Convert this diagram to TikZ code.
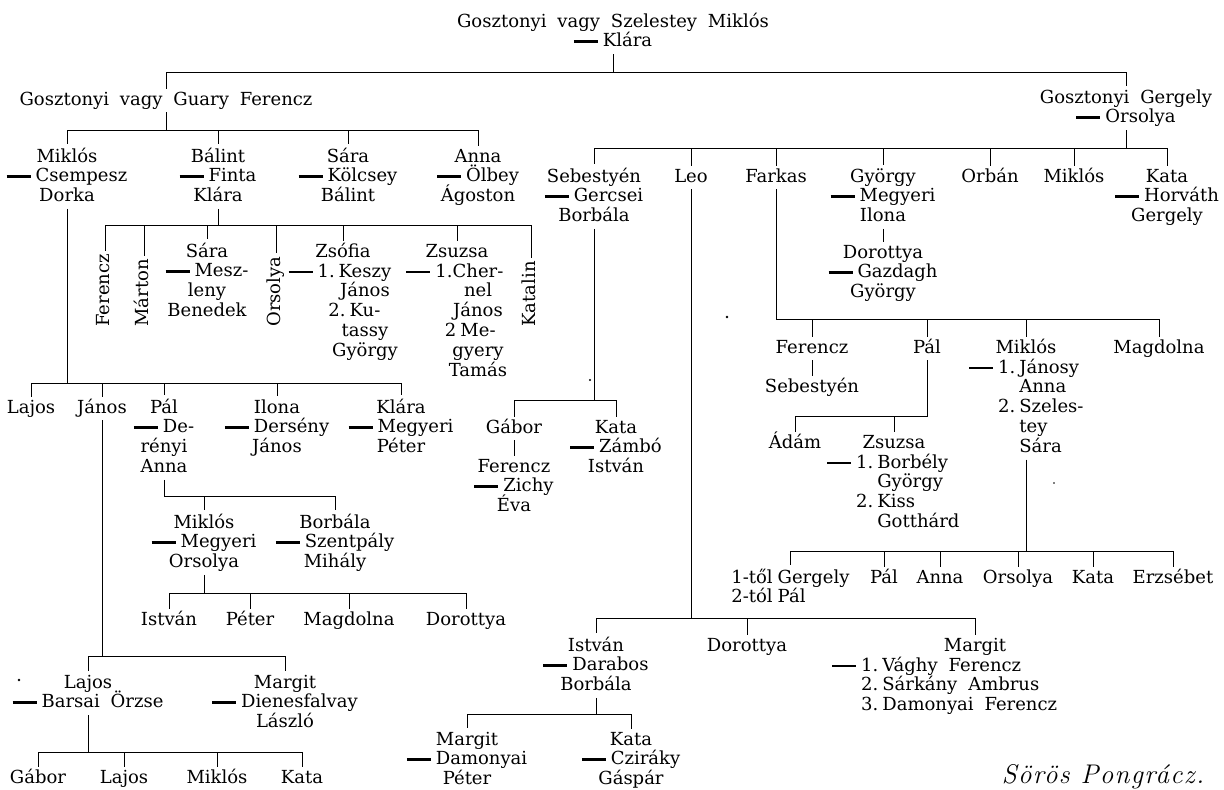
\documentclass[tikz,border=0pt]{standalone}
\usepackage{fontspec}
\setmainfont[WordSpace=1.9]{DejaVu Serif}
\newfontfamily\sigfont[LetterSpace=5]{Latin Modern Roman}

% one person with the lines under it (centred or flush left)
\newcommand{\famstrut}{\vrule height13pt depth4pt width0pt}
\newcommand{\famc}[1]{\vtop{\baselineskip=19.8pt\lineskiplimit=-100pt
  \halign{\hfil##\hfil\famstrut\cr#1\crcr}}}
\newcommand{\famv}[1]{\vtop{\baselineskip=19.8pt\lineskiplimit=-100pt
  \halign{##\hfil\famstrut\cr#1\crcr}}}
\newcommand{\wed}{\raisebox{4.2pt}{\rule{24pt}{2.2pt}}\hspace{5pt}}
\newcommand{\nr}[1]{\llap{#1\hspace{4pt}}}

\begin{document}
\begin{tikzpicture}[x=1pt,y=-1pt,line width=0.7pt,
  font=\fontsize{18}{19.8}\selectfont,
  pers/.style={anchor=base,inner sep=3pt,text height=13pt,text depth=4pt},
  fam/.style={anchor=base,inner sep=3pt},
  lst/.style={anchor=base west,inner sep=3pt},
  rot/.style={pers,rotate=90,anchor=west}]
\fill[white] (0,0) rectangle (1224,790);
\useasboundingbox (0,0) rectangle (1224,790);

% bars
\coordinate (b0) at (0,72);   \coordinate (b1) at (0,130);
\coordinate (b2) at (0,148);  \coordinate (b3) at (0,225);
\coordinate (b4) at (0,383);  \coordinate (b5) at (0,496);
\coordinate (b6) at (0,593);  \coordinate (b7) at (0,656);
\coordinate (b8) at (0,752);  \coordinate (b9) at (0,400);
\coordinate (b10) at (0,618); \coordinate (b11) at (0,714);
\coordinate (b12) at (0,319); \coordinate (b13) at (0,416);
\coordinate (b14) at (0,551);

% first two generations
\node[fam] (szel) at (613,27) {\famc{Gosztonyi vagy Szelestey Miklós\cr\wed Klára}};
\node[pers] (guary) at (166,105) {Gosztonyi vagy Guary Ferencz};
\node[fam] (gergely) at (1126,103) {\famc{Gosztonyi Gergely\cr\wed Orsolya}};
\draw (szel.south) -- (szel.south |- b0);
\draw (guary.north |- b0) -- (gergely.north |- b0);
\foreach \c in {guary,gergely} \draw (\c.north |- b0) -- (\c.north);

% Guary Ferencz
\node[fam] (miklos) at (67,162) {\famc{Miklós\cr\wed Csempesz\cr Dorka}};
\node[fam] (balint) at (218,162) {\famc{Bálint\cr\wed Finta\cr Klára}};
\node[fam] (sara) at (348,162) {\famc{Sára\cr\wed Kölcsey\cr Bálint}};
\node[fam] (anna) at (478,162) {\famc{Anna\cr\wed Ölbey\cr Ágoston}};
\draw (guary.south) -- (guary.south |- b1);
\draw (miklos.north |- b1) -- (anna.north |- b1);
\foreach \c in {miklos,balint,sara,anna} \draw (\c.north |- b1) -- (\c.north);

% Bálint
\node[rot] (ferencz1) at (105,330) {Ferencz};
\node[rot] (marton) at (144,330) {Márton};
\node[fam] (sara2) at (207,257) {\famc{Sára\cr\wed Mesz-\cr leny\cr Benedek}};
\node[rot] (orsolya1) at (276,330) {Orsolya};
\node[pers] (zsofia) at (343,257) {Zsófia};
\node[fam] (zsofiam) at (365,277) {\famc{\nr{\wed1.}Keszy\cr János\cr\nr{2.}Ku-\cr tassy\cr György}};
\node[pers] (zsuzsa1) at (457,257) {Zsuzsa};
\node[fam] (zsuzsa1m) at (478,277) {\famc{\llap{\wed1.}Cher-\cr nel\cr János\cr\nr{2}Me-\cr gyery\cr Tamás}};
\node[rot] (katalin) at (531,330) {Katalin};
\draw (balint.south) -- (balint.south |- b3);
\draw (ferencz1.east |- b3) -- (katalin.east |- b3);
\foreach \c in {ferencz1,marton,orsolya1,katalin} \draw (\c.east |- b3) -- (\c.east);
\foreach \c in {sara2,zsofia,zsuzsa1} \draw (\c.north |- b3) -- (\c.north);

% Miklós and Csempesz Dorka
\node[pers] (lajos1) at (31,413) {Lajos};
\node[pers] (janos1) at (102,413) {János};
\node[fam] (pal1) at (164,413) {\famc{Pál\cr\wed De-\cr rényi\cr Anna}};
\node[fam] (ilona1) at (277,413) {\famc{Ilona\cr\wed Dersény\cr János}};
\node[fam] (klara1) at (401,413) {\famc{Klára\cr\wed Megyeri\cr Péter}};
\draw (miklos.south) -- (miklos.south |- b4);
\draw (lajos1.north |- b4) -- (klara1.north |- b4);
\foreach \c in {lajos1,janos1,pal1,ilona1,klara1} \draw (\c.north |- b4) -- (\c.north);

% Pál and Derényi Anna
\node[fam] (miklos3) at (204,528) {\famc{Miklós\cr\wed Megyeri\cr Orsolya}};
\node[fam] (borbala1) at (335,528) {\famc{Borbála\cr\wed Szentpály\cr Mihály}};
\draw (pal1.south) |- (borbala1.north |- b5);
\foreach \c in {miklos3,borbala1} \draw (\c.north |- b5) -- (\c.north);

\node[pers] (istvan1) at (169,625) {István};
\node[pers] (peter1) at (250,625) {Péter};
\node[pers] (magdolna1) at (349,625) {Magdolna};
\node[pers] (dorottya1) at (466,625) {Dorottya};
\draw (miklos3.south) -- (miklos3.south |- b6);
\draw (istvan1.north |- b6) -- (dorottya1.north |- b6);
\foreach \c in {istvan1,peter1,magdolna1,dorottya1} \draw (\c.north |- b6) -- (\c.north);

% János
\node[fam] (lajos2) at (88,688) {\famc{Lajos\cr\wed Barsai Örzse}};
\node[fam] (margit1) at (285,688) {\famc{Margit\cr\wed Dienesfalvay\cr László}};
\draw (janos1.south) -- (janos1.south |- b7);
\draw (lajos2.north |- b7) -- (margit1.north |- b7);
\foreach \c in {lajos2,margit1} \draw (\c.north |- b7) -- (\c.north);

\node[pers] (gabor2) at (38,783) {Gábor};
\node[pers] (lajos3) at (124,783) {Lajos};
\node[pers] (miklos4) at (217,783) {Miklós};
\node[pers] (kata3) at (302,783) {Kata};
\draw (lajos2.south) -- (lajos2.south |- b8);
\draw (gabor2.north |- b8) -- (kata3.north |- b8);
\foreach \c in {gabor2,lajos3,miklos4,kata3} \draw (\c.north |- b8) -- (\c.north);

% Gosztonyi Gergely
\node[fam] (sebestyen) at (594,182) {\famc{Sebestyén\cr\wed Gercsei\cr Borbála}};
\node[pers] (leo) at (691,182) {Leo};
\node[pers] (farkas) at (776,182) {Farkas};
\node[fam] (gyorgy) at (883,182) {\famc{György\cr\wed Megyeri\cr Ilona}};
\node[pers] (orban) at (990,182) {Orbán};
\node[pers] (miklos2) at (1074,182) {Miklós};
\node[fam] (kata) at (1167,182) {\famc{Kata\cr\wed Horváth\cr Gergely}};
\draw (gergely.south) -- (gergely.south |- b2);
\draw (sebestyen.north |- b2) -- (kata.north |- b2);
\foreach \c in {sebestyen,leo,farkas,gyorgy,orban,miklos2,kata} \draw (\c.north |- b2) -- (\c.north);

\node[fam] (dorottya) at (883,258) {\famc{Dorottya\cr\wed Gazdagh\cr György}};
\draw (gyorgy.south) -- (gyorgy.south |- dorottya.north);

% Sebestyén
\node[pers] (gabor1) at (514,433) {Gábor};
\node[fam] (kata2) at (616,433) {\famc{Kata\cr\wed Zámbó\cr István}};
\node[fam] (ferencz2) at (514,472) {\famc{Ferencz\cr\wed Zichy\cr Éva}};
\draw (sebestyen.south) -- (sebestyen.south |- b9);
\draw (gabor1.north |- b9) -- (kata2.north |- b9);
\foreach \c in {gabor1,kata2} \draw (\c.north |- b9) -- (\c.north);
\draw (gabor1.south) -- (gabor1.south |- ferencz2.north);

% Leo
\node[fam] (istvan2) at (596,651) {\famc{István\cr\wed Darabos\cr Borbála}};
\node[pers] (dorottya2) at (747,651) {Dorottya};
\node[pers] (margit2) at (975,651) {Margit};
\node[lst] (margit2m) at (879,671) {\famv{\nr{\wed1.}Vághy Ferencz\cr\nr{2.}Sárkány Ambrus\cr\nr{3.}Damonyai Ferencz}};
\draw (leo.south) -- (leo.south |- b10);
\draw (istvan2.north |- b10) -- (margit2.north |- b10);
\foreach \c in {istvan2,dorottya2,margit2} \draw (\c.north |- b10) -- (\c.north);

\node[fam] (margit3) at (467,745) {\famc{Margit\cr\wed Damonyai\cr Péter}};
\node[fam] (kata4) at (631,745) {\famc{Kata\cr\wed Cziráky\cr Gáspár}};
\draw (istvan2.south) -- (istvan2.south |- b11);
\draw (margit3.north |- b11) -- (kata4.north |- b11);
\foreach \c in {margit3,kata4} \draw (\c.north |- b11) -- (\c.north);

% Farkas
\node[pers] (ferencz3) at (812,353) {Ferencz};
\node[pers] (pal2) at (927,353) {Pál};
\node[pers] (miklos5) at (1026,353) {Miklós};
\node[lst] (miklos5m) at (1016,373) {\famv{\nr{\wed1.}Jánosy\cr Anna\cr\nr{2.}Szeles-\cr tey\cr Sára}};
\node[pers] (magdolna2) at (1159,353) {Magdolna};
\draw (farkas.south) |- (magdolna2.north |- b12);
\foreach \c in {ferencz3,pal2,miklos5,magdolna2} \draw (\c.north |- b12) -- (\c.north);

\node[pers] (sebestyen2) at (812,392) {Sebestyén};
\draw (ferencz3.south) -- (sebestyen2.north);

\node[pers] (adam) at (795,448) {Ádám};
\node[pers] (zsuzsa2) at (894,448) {Zsuzsa};
\node[lst] (zsuzsa2m) at (874,468) {\famv{\nr{\wed1.}Borbély\cr György\cr\nr{2.}Kiss\cr Gotthárd}};
\draw (pal2.south) |- (adam.north |- b13);
\foreach \c in {adam,zsuzsa2} \draw (\c.north |- b13) -- (\c.north);

\node[lst] (gergely3) at (728,583) {\famv{1-től\hspace{5pt}Gergely\cr 2-tól\hspace{5pt}Pál}};
\node[pers] (pal3) at (884,583) {Pál};
\node[pers] (anna3) at (940,583) {Anna};
\node[pers] (orsolya3) at (1018,583) {Orsolya};
\node[pers] (kata5) at (1093,583) {Kata};
\node[pers] (erzsebet) at (1173,583) {Erzsébet};
\draw (miklos5.south |- miklos5m.south) -- (miklos5.south |- b14);
\draw (gergely3.north |- b14) -- (erzsebet.north |- b14);
\foreach \c in {gergely3,pal3,anna3,orsolya3,kata5,erzsebet} \draw (\c.north |- b14) -- (\c.north);

% signature and specks
\node[anchor=base] (sig) at (1103,783) {\sigfont\itshape\fontsize{27}{29}\selectfont Sörös Pongrácz.};
\fill (19,680) circle (1.4); \fill (727,317) circle (1.4);
\fill (590,380) circle (1.2); \fill (1054,483) circle (0.8);
\end{tikzpicture}
\end{document}
